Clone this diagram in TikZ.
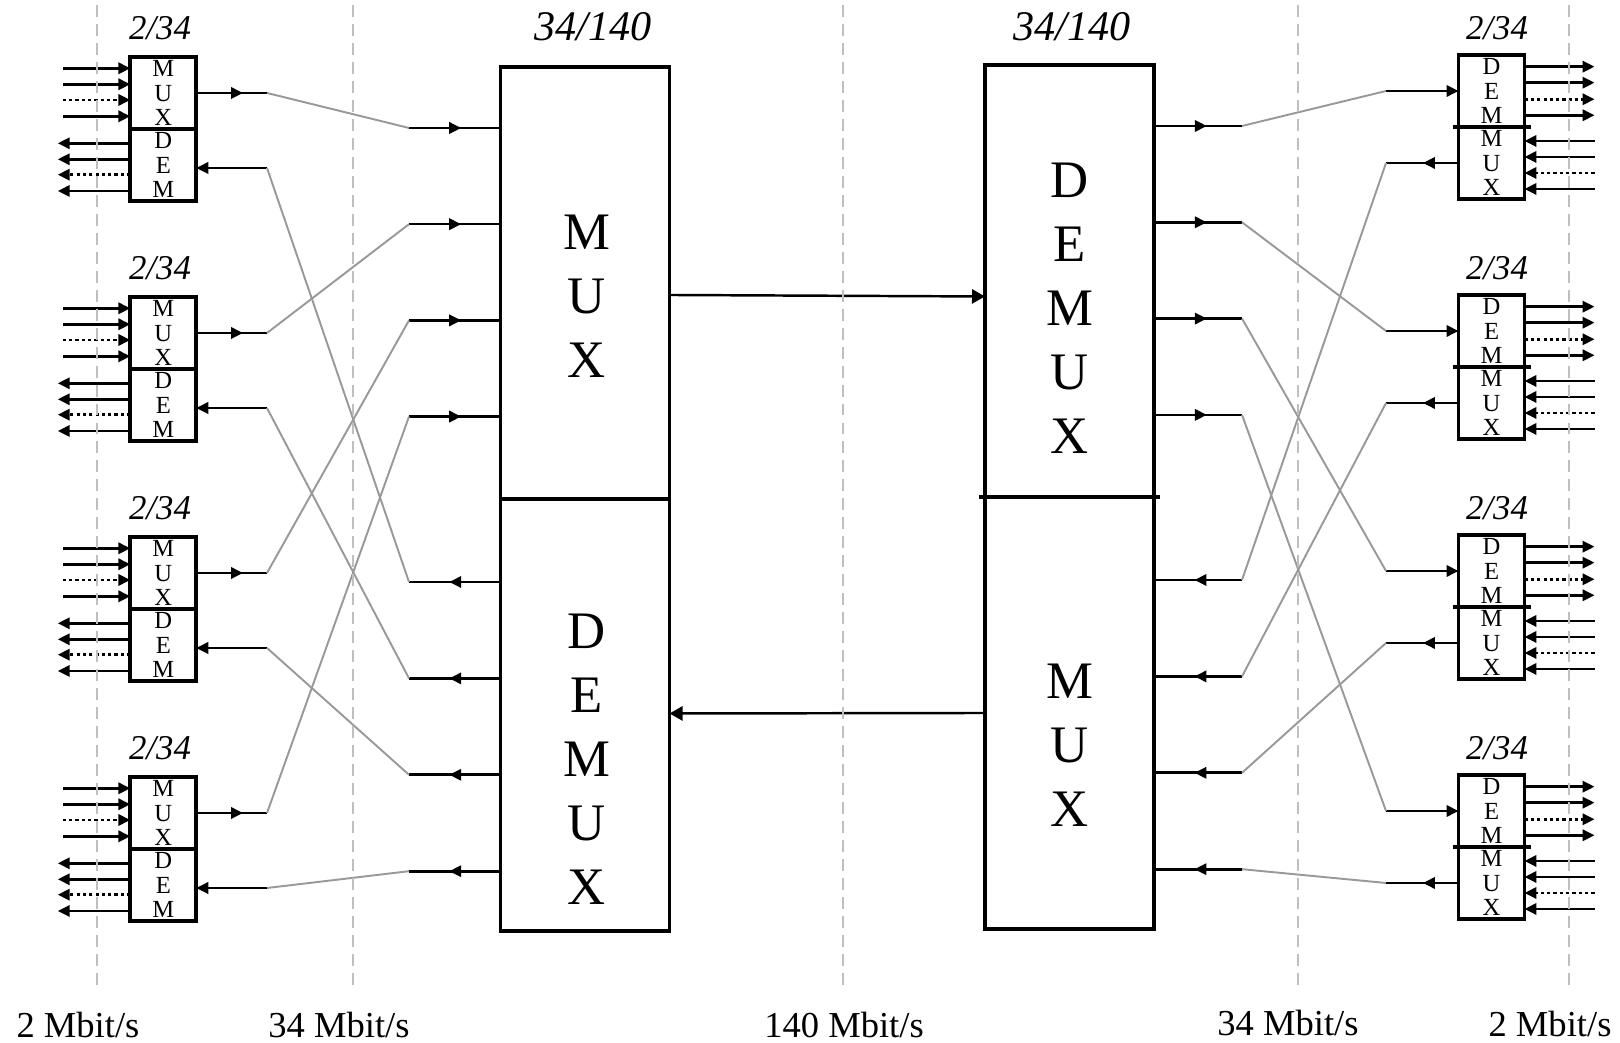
\documentclass[tikz,border=0pt]{standalone}
\usepackage{fontspec}
\setmainfont{Liberation Serif}
\usetikzlibrary{arrows.meta,positioning,calc,decorations.markings}

\begin{document}
\begin{tikzpicture}[
  box/.style={draw, line width=1.1pt, inner sep=0pt, outer sep=0pt},
  small/.style={box, minimum width=6.6mm, minimum height=7.2mm,
                align=center, font=\fontsize{7}{7}\selectfont},
  big/.style={box, minimum width=16.9mm, minimum height=43.2mm},
  bigltr/.style={align=center, inner sep=0pt, font=\fontsize{15}{18.2}\selectfont},
  tag/.style={inner sep=0pt, font=\fontsize{9.9}{12}\selectfont\itshape},
  head/.style={inner sep=0pt, font=\fontsize{12}{14}\selectfont\itshape},
  rate/.style={inner sep=0pt, font=\fontsize{10.4}{12}\selectfont},
  sig/.style={line width=0.75pt, -{Triangle[length=3.4pt,width=3.2pt]}},
  sigdot/.style={sig, dash pattern=on 0.9pt off 0.9pt},
  stub/.style={line width=0.75pt, postaction={decorate},
               decoration={markings, mark=at position #1 with
                 {\arrow{Triangle[length=3.4pt,width=3.2pt]}}}},
  stub/.default=0.6,
  link/.style={line width=0.55pt, black!40},
  guide/.style={line width=0.6pt, black!25, dash pattern=on 3.4pt off 2pt},
  bus/.style={line width=0.7pt, -{Triangle[length=3.7pt,width=4pt]}},
  divider/.style={line width=1.1pt, shorten <=-0.6mm, shorten >=-0.6mm}
]
\useasboundingbox (0,0) rectangle (16.20,10.43);

% 34/140 multiplexers
\node[big] (lmux) at (5.85,7.60) {};
\node[big] (ldemux) at (5.85,3.28) {};
\node[bigltr] (lmuxt) at (5.87,7.47) {M\\U\\X};
\node[bigltr] (ldemuxt) at (5.87,2.84) {D\\E\\M\\U\\X};
\node[head] (lhead) at (5.93,10.16) {34/140};

\node[big] (rdemux) at (10.695,7.62) {};
\node[big] (rmux) at (10.695,3.30) {};
\draw[divider] (rdemux.south west) -- (rdemux.south east);
\node[bigltr] (rdemuxt) at (10.70,7.345) {D\\E\\M\\U\\X};
\node[bigltr] (rmuxt) at (10.70,2.975) {M\\U\\X};
\node[head] (rhead) at (10.72,10.16) {34/140};

\draw[bus] ([yshift=-1.2mm]lmux.east) -- ([yshift=-1.55mm]rdemux.west);
\draw[bus] (rmux.west) -- ([yshift=0.15mm]ldemux.east);

% 34 Mbit/s ports
\foreach \j in {0,...,3}{
  \coordinate (bmi\j) at (4.09,9.15-0.962*\j);
  \coordinate (bdo\j) at (4.09,4.61-0.964*\j);
  \coordinate (cdo\j) at (12.42,9.17-0.963*\j);
  \coordinate (cmi\j) at (12.42,4.63-0.964*\j);
  \draw[stub=0.57] (bmi\j) -- (bmi\j -| lmux.west);
  \draw[stub=0.56] (bdo\j -| ldemux.west) -- (bdo\j);
  \draw[stub=0.6] (cdo\j -| rdemux.east) -- (cdo\j);
  \draw[stub=0.54] (cmi\j) -- (cmi\j -| rmux.east);
}

% 2/34 multiplexers, left side
\foreach \k in {0,...,3}{
  \pgfmathsetmacro\o{2.4*\k}
  \node[small] (lm\k) at (1.633,9.50-\o) {M\\U\\X};
  \node[small] (ld\k) at (1.633,8.78-\o) {D\\E\\M};
  \node[tag] (lt\k) at (1.60,10.15-\o) {2/34};
  \foreach \d/\s in {0.247/sig,0.087/sig,-0.07/sigdot,-0.233/sig}
    \draw[\s] ($(lm\k.west)+(-0.675,\d)$) -- ($(lm\k.west)+(0,\d)$);
  \foreach \d/\s in {0.217/sig,0.057/sig,-0.097/sigdot,-0.26/sig}
    \draw[\s] ($(ld\k.west)+(0,\d)$) -- ($(ld\k.west)+(-0.725,\d)$);
  \coordinate (lo\k) at (2.67,9.50-\o);
  \coordinate (li\k) at (2.67,8.75-\o);
  \draw[stub=0.66] (lm\k.east) -- (lo\k);
  \draw[sig] (li\k) -- (li\k -| ld\k.east);
  \draw[link] (lo\k) -- (bmi\k);
  \draw[link] (li\k) -- (bdo\k);
}

% 2/34 multiplexers, right side
\foreach \k in {0,...,3}{
  \pgfmathsetmacro\o{2.4*\k}
  \node[small] (rd\k) at (14.915,9.52-\o) {D\\E\\M};
  \node[small] (rm\k) at (14.915,8.80-\o) {M\\U\\X};
  \draw[divider] (rd\k.south west) -- (rd\k.south east);
  \node[tag] (rt\k) at (14.97,10.15-\o) {2/34};
  \foreach \d/\s in {0.243/sig,0.083/sig,-0.083/sigdot,-0.243/sig}
    \draw[\s] ($(rd\k.east)+(0,\d)$) -- ($(rd\k.east)+(0.70,\d)$);
  \foreach \d/\s in {0.22/sig,0.06/sig,-0.10/sigdot,-0.26/sig}
    \draw[\s] ($(rm\k.east)+(0.70,\d)$) -- ($(rm\k.east)+(0,\d)$);
  \coordinate (rdi\k) at (13.86,9.52-\o);
  \coordinate (rmo\k) at (13.86,8.80-\o);
  \draw[sig] (rdi\k) -- (rd\k.west);
  \draw[stub=0.49] (rm\k.west) -- (rmo\k);
  \draw[link] (cdo\k) -- (rdi\k);
  \draw[link] (rmo\k) -- (cmi\k);
}

% rate boundaries
\foreach \x in {0.97,3.53,8.43,12.98,15.69}
  \draw[guide] (\x,10.38) -- (\x,0.56);
\node[rate] (r2l) at (0.78,0.18) {2 Mbit/s};
\node[rate] (r34l) at (3.39,0.18) {34 Mbit/s};
\node[rate] (r140) at (8.44,0.18) {140 Mbit/s};
\node[rate] (r34r) at (12.88,0.20) {34 Mbit/s};
\node[rate] (r2r) at (15.50,0.19) {2 Mbit/s};
\end{tikzpicture}
\end{document}
